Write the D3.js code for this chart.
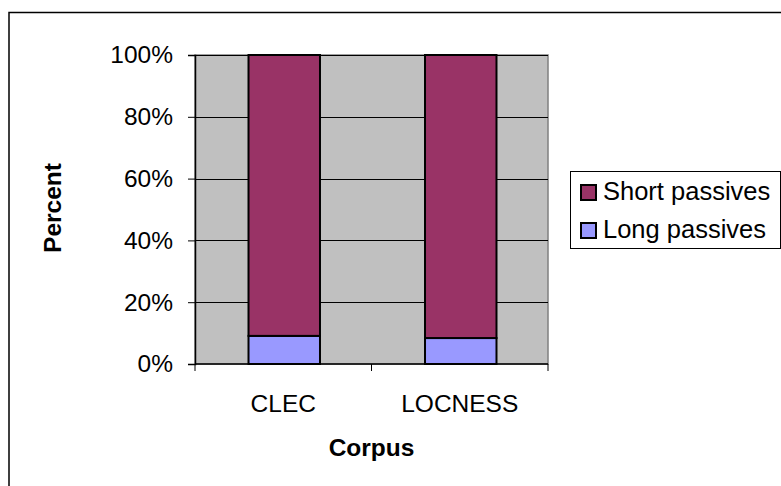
<!DOCTYPE html>
<html>
<head>
<meta charset="utf-8">
<script src="https://cdn.jsdelivr.net/npm/d3@7"></script>
<style>
  body { margin: 0; background: #fff; }
  text { font-family: "Liberation Sans", Arial, sans-serif; }
</style>
</head>
<body>
<script>
// data
var categories = ["CLEC", "LOCNESS"];
var seriesNames = ["Long passives", "Short passives"];
var longPassives = [9.1, 8.4];
var shortPassives = [90.9, 91.6];
var yTicks = [0, 20, 40, 60, 80, 100];
var colors = { "Short passives": "#993366", "Long passives": "#9999ff" };

var width = 781, height = 486;
var plot = { left: 195, right: 548, top: 55, bottom: 364 };

var svg = d3.select("body").append("svg")
  .attr("width", width)
  .attr("height", height);

// outer chart border (right and bottom run off the page)
svg.append("rect")
  .attr("x", 9)
  .attr("y", 12.5)
  .attr("width", 800)
  .attr("height", 500)
  .style("fill", "none")
  .style("stroke", "#000")
  .style("stroke-width", 1.5);

var x = d3.scaleBand()
  .domain(categories)
  .range([plot.left, plot.right]);

var y = d3.scaleLinear()
  .domain([0, 100])
  .range([plot.bottom, plot.top]);

// plot area
svg.append("rect")
  .attr("x", plot.left)
  .attr("y", plot.top)
  .attr("width", plot.right - plot.left)
  .attr("height", plot.bottom - plot.top)
  .style("fill", "#c0c0c0")
  .style("stroke", "#808080")
  .style("stroke-width", 1.5);

// gridlines
svg.append("g").selectAll("line")
  .data(yTicks.slice(1))
  .enter().append("line")
  .attr("x1", plot.left)
  .attr("x2", plot.right)
  .attr("y1", function(d) { return Math.round(y(d)) + 0.5; })
  .attr("y2", function(d) { return Math.round(y(d)) + 0.5; })
  .style("stroke", "#000")
  .style("stroke-width", 1);

// stacked bars
var rows = categories.map(function(c, i) {
  return { cat: c, "Long passives": longPassives[i], "Short passives": shortPassives[i] };
});
var stack = d3.stack().keys(seriesNames)(rows);
var barW = x.bandwidth() * 0.405;

svg.append("g").selectAll("g")
  .data(stack)
  .enter().append("g")
  .style("fill", function(d) { return colors[d.key]; })
  .selectAll("rect")
  .data(function(d) { return d; })
  .enter().append("rect")
  .attr("x", function(d) { return x(d.data.cat) + x.bandwidth() / 2 - barW / 2 + 1; })
  .attr("y", function(d) { return y(d[1]); })
  .attr("width", barW)
  .attr("height", function(d) { return y(d[0]) - y(d[1]); })
  .style("stroke", "#000")
  .style("stroke-width", 2);

// y axis
var yAxis = d3.axisLeft(y)
  .tickValues(yTicks)
  .tickSize(7)
  .tickPadding(15)
  .tickFormat(function(d) { return d + "%"; });

svg.append("g")
  .attr("transform", "translate(" + plot.left + ",0)")
  .call(yAxis)
  .call(function(g) {
    g.select(".domain").style("stroke", "#000").style("stroke-width", 1.5);
    g.selectAll("line").style("stroke", "#000");
    g.selectAll("text").style("font-size", "24.5px").style("fill", "#000")
      .style("font-family", "'Liberation Sans', Arial, sans-serif");
  });

// x axis: ticks sit between categories
var xAxisG = svg.append("g")
  .attr("transform", "translate(0," + plot.bottom + ")");
xAxisG.append("line")
  .attr("x1", plot.left)
  .attr("x2", plot.right)
  .style("stroke", "#000")
  .style("stroke-width", 1.5);
xAxisG.selectAll(".tick")
  .data(categories.concat(["end"]))
  .enter().append("line")
  .attr("x1", function(d, i) { return plot.left + i * x.step(); })
  .attr("x2", function(d, i) { return plot.left + i * x.step(); })
  .attr("y1", 0)
  .attr("y2", 7)
  .style("stroke", "#000");
xAxisG.selectAll("text")
  .data(categories)
  .enter().append("text")
  .attr("x", function(d) { return x(d) + x.bandwidth() / 2; })
  .attr("y", 48)
  .attr("text-anchor", "middle")
  .style("font-size", "24.5px")
  .text(function(d) { return d; });

// axis titles
svg.append("text")
  .attr("x", (plot.left + plot.right) / 2)
  .attr("y", 456)
  .attr("text-anchor", "middle")
  .style("font-size", "24.5px")
  .style("font-weight", "bold")
  .text("Corpus");

svg.append("text")
  .attr("transform", "translate(61,208) rotate(-90)")
  .attr("text-anchor", "middle")
  .style("font-size", "24.5px")
  .style("font-weight", "bold")
  .text("Percent");

// legend
var legend = svg.append("g").attr("transform", "translate(570,171)");
legend.append("rect")
  .attr("x", 0.5)
  .attr("y", 0.5)
  .attr("width", 210)
  .attr("height", 77)
  .style("fill", "#fff")
  .style("stroke", "#000");

var legendItems = ["Short passives", "Long passives"];
var li = legend.selectAll(".item")
  .data(legendItems)
  .enter().append("g")
  .attr("transform", function(d, i) { return "translate(11," + (14 + i * 38) + ")"; });
li.append("rect")
  .attr("width", 15)
  .attr("height", 15)
  .style("fill", function(d) { return colors[d]; })
  .style("stroke", "#000")
  .style("stroke-width", 2);
li.append("text")
  .attr("x", 22)
  .attr("y", 15)
  .style("font-size", "25.5px")
  .text(function(d) { return d; });
</script>
</body>
</html>
